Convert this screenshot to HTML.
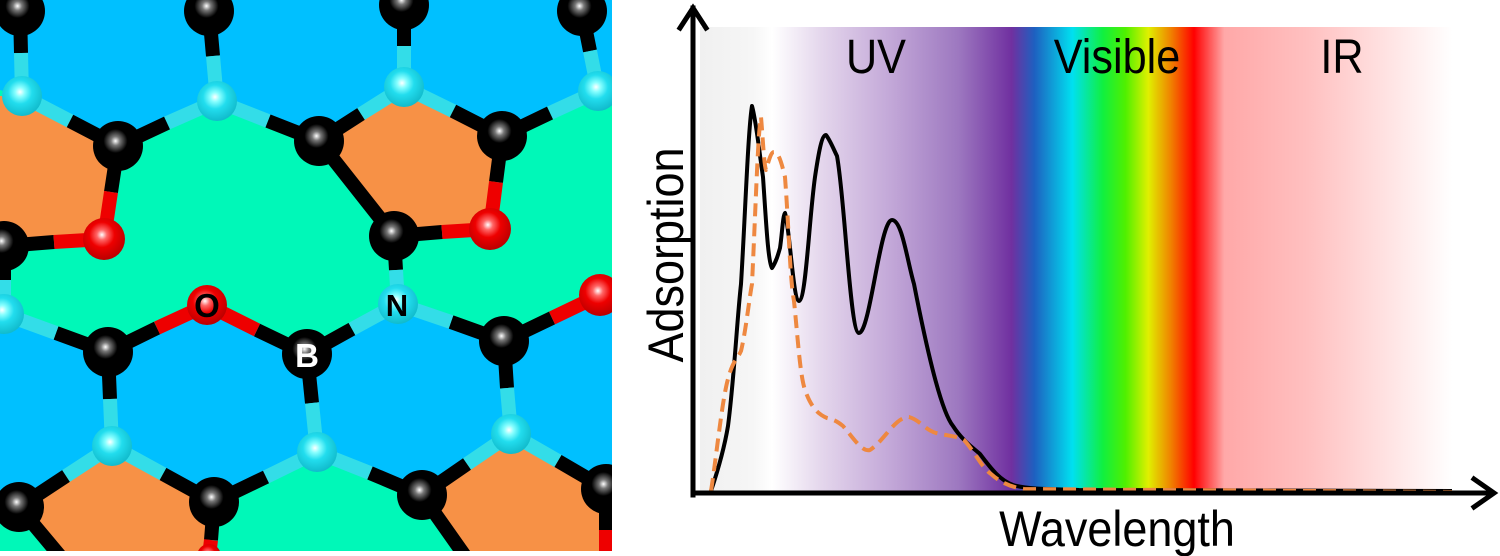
<!DOCTYPE html>
<html><head><meta charset="utf-8"><style>
html,body{margin:0;padding:0;background:#fff;width:1500px;height:556px;overflow:hidden}
svg{display:block}
text{font-family:"Liberation Sans",Arial,sans-serif}
</style></head><body>
<svg width="1500" height="556" viewBox="0 0 1500 556" xmlns="http://www.w3.org/2000/svg">
<defs>
<clipPath id="mc"><rect x="0" y="0" width="612" height="551"/></clipPath>
<radialGradient id="gC" cx="0.45" cy="0.4" r="0.6"><stop offset="0" stop-color="#fff"/><stop offset="0.15" stop-color="#777"/><stop offset="0.4" stop-color="#000"/><stop offset="1" stop-color="#000"/></radialGradient>
<radialGradient id="gN" cx="0.45" cy="0.4" r="0.6"><stop offset="0" stop-color="#fff"/><stop offset="0.2" stop-color="#8ff"/><stop offset="0.5" stop-color="#2de"/><stop offset="1" stop-color="#1bc"/></radialGradient>
<radialGradient id="gO" cx="0.45" cy="0.4" r="0.6"><stop offset="0" stop-color="#fff"/><stop offset="0.2" stop-color="#f66"/><stop offset="0.5" stop-color="#e00"/><stop offset="1" stop-color="#b00"/></radialGradient>
<linearGradient id="spec" x1="0" x2="1" y1="0" y2="0">
<stop offset="0" stop-color="#f0f0f0"/>
<stop offset="0.07" stop-color="#f6f6f6"/>
<stop offset="0.095" stop-color="#fff"/>
<stop offset="0.16" stop-color="#e4d6ec"/>
<stop offset="0.25" stop-color="#c3a8d8"/>
<stop offset="0.34" stop-color="#9d78c0"/>
<stop offset="0.41" stop-color="#7030a0"/>
<stop offset="0.44" stop-color="#1e60c0"/>
<stop offset="0.49" stop-color="#00e0f0"/>
<stop offset="0.53" stop-color="#10f040"/>
<stop offset="0.56" stop-color="#50f000"/>
<stop offset="0.59" stop-color="#e0f000"/>
<stop offset="0.62" stop-color="#f08000"/>
<stop offset="0.65" stop-color="#ff0000"/>
<stop offset="0.69" stop-color="#ffa8a8"/>
<stop offset="0.80" stop-color="#ffc0c0"/>
<stop offset="0.99" stop-color="#fff"/>
</linearGradient>
</defs>

<g clip-path="url(#mc)">
<rect x="0" y="0" width="612" height="551" fill="#00c0ff"/>
<polygon fill="#00f8b8" points="0,90 22,96 118,146 217,101 319,141 404,87 502,136 598,91 612,85 612,290 600,295 504,341 398,304 307,354 207,305 108,352 4,314 0,312"/>
<polygon fill="#f79146" points="0,96 22,96 118,146 104,239 4,246 0,246"/>
<polygon fill="#f79146" points="319,141 404,87 502,136 490,229 394,236"/>
<polygon fill="#00f8b8" points="0,500 19,507 112,446 214,502 317,452 422,495 511,434 606,489 612,489 612,556 0,556"/>
<polygon fill="#f79146" points="19,507 112,446 214,502 209,556 60,556"/>
<polygon fill="#f79146" points="422,495 511,434 606,489 606,556 465,556"/>
<g stroke-width="14" stroke-linecap="butt" fill="none">
<path stroke="#000" d="M20,11L21,53 M209,11L213,56 M404,5L404,46 M582,11L590,51"/>
<path stroke="#33dde8" d="M21,53L22,96 M213,56L217,101 M404,46L404,87 M590,51L598,91"/>
<path stroke="#33dde8" d="M22,96L70,121 M217,101L167,123 M217,101L268,121 M404,87L361,114 M404,87L453,111 M598,91L550,113"/>
<path stroke="#000" d="M70,121L118,146 M167,123L118,146 M268,121L319,141 M361,114L319,141 M453,111L502,136 M550,113L502,136"/>
<path stroke="#000" d="M118,146L111,192 M54,242L4,246 M319,141L394,236 M394,236L442,232 M502,136L496,182"/>
<path stroke="#e00" d="M111,192L104,239 M104,239L54,242 M442,232L490,229 M496,182L490,229"/>
<path stroke="#000" d="M4,246L4,280 M394,236L396,270 M108,352L56,333 M108,352L157,328 M307,354L257,330 M307,354L352,329 M504,341L451,322 M504,341L552,318"/>
<path stroke="#33dde8" d="M4,280L4,314 M396,270L398,304 M4,314L56,333 M398,304L352,329 M398,304L451,322"/>
<path stroke="#e00" d="M157,328L207,305 M207,305L257,330 M552,318L600,295"/>
<path stroke="#000" d="M108,352L110,399 M307,354L312,403 M504,341L507,388"/>
<path stroke="#33dde8" d="M110,399L112,446 M312,403L317,452 M507,388L511,434"/>
<path stroke="#33dde8" d="M112,446L66,476 M112,446L163,474 M317,452L266,477 M317,452L370,473 M511,434L467,464 M511,434L558,461"/>
<path stroke="#000" d="M66,476L19,507 M163,474L214,502 M266,477L214,502 M370,473L422,495 M467,464L422,495 M558,461L606,489"/>
<path stroke="#000" d="M19,507L60,556 M214,502L211,540 M422,495L465,556 M606,489L606,530"/>
<path stroke="#e00" d="M211,540L209,556 M606,530L606,556"/>
</g>
<g>
<circle cx="20" cy="11" r="25" fill="url(#gC)"/><circle cx="209" cy="11" r="25" fill="url(#gC)"/><circle cx="404" cy="5" r="25" fill="url(#gC)"/><circle cx="582" cy="11" r="25" fill="url(#gC)"/>
<circle cx="118" cy="146" r="25" fill="url(#gC)"/><circle cx="319" cy="141" r="25" fill="url(#gC)"/><circle cx="502" cy="136" r="25" fill="url(#gC)"/>
<circle cx="4" cy="246" r="25" fill="url(#gC)"/><circle cx="394" cy="236" r="25" fill="url(#gC)"/>
<circle cx="108" cy="352" r="25" fill="url(#gC)"/><circle cx="307" cy="354" r="25" fill="url(#gC)"/><circle cx="504" cy="341" r="25" fill="url(#gC)"/>
<circle cx="19" cy="507" r="25" fill="url(#gC)"/><circle cx="214" cy="502" r="25" fill="url(#gC)"/><circle cx="422" cy="495" r="25" fill="url(#gC)"/><circle cx="606" cy="489" r="25" fill="url(#gC)"/>
<circle cx="22" cy="96" r="20" fill="url(#gN)"/><circle cx="217" cy="101" r="20" fill="url(#gN)"/><circle cx="404" cy="87" r="20" fill="url(#gN)"/><circle cx="598" cy="91" r="20" fill="url(#gN)"/>
<circle cx="4" cy="314" r="20" fill="url(#gN)"/><circle cx="398" cy="304" r="20" fill="url(#gN)"/>
<circle cx="112" cy="446" r="20" fill="url(#gN)"/><circle cx="317" cy="452" r="20" fill="url(#gN)"/><circle cx="511" cy="434" r="20" fill="url(#gN)"/>
<circle cx="104" cy="239" r="21" fill="url(#gO)"/><circle cx="490" cy="229" r="21" fill="url(#gO)"/><circle cx="207" cy="305" r="20" fill="url(#gO)"/><circle cx="600" cy="295" r="21" fill="url(#gO)"/><circle cx="209" cy="556" r="12" fill="url(#gO)"/>
</g>
<text x="207" y="317" font-size="33" font-weight="bold" text-anchor="middle" fill="#000">O</text>
<text x="307" y="367" font-size="33" font-weight="bold" text-anchor="middle" fill="#fff">B</text>
<text x="397" y="316" font-size="31" font-weight="bold" text-anchor="middle" fill="#000">N</text>
</g>

<rect x="700" y="27" width="760" height="464" fill="url(#spec)"/>
<text transform="translate(876,73) scale(0.9,1)" font-size="48" text-anchor="middle" fill="#000">UV</text>
<text transform="translate(1117,73) scale(0.9,1)" font-size="48" text-anchor="middle" fill="#000">Visible</text>
<text transform="translate(1342,73) scale(0.9,1)" font-size="48" text-anchor="middle" fill="#000">IR</text>
<text transform="translate(683,255) rotate(-90) scale(0.9,1)" font-size="50" text-anchor="middle" fill="#000">Adsorption</text>
<text transform="translate(1117,546) scale(0.9,1)" font-size="50" text-anchor="middle" fill="#000">Wavelength</text>

<path fill="none" stroke="#000" stroke-width="4" stroke-linejoin="round" d="M711,491 C718,470 724,450 728,426 C734,380 737,320 741,284 C745,220 748,130 752,106 C756,120 759,150 763,177 C766,220 768,262 772,268 C776,262 778,255 780,248 C782,235 783,214 785,213 C790,230 793,300 799,301 C806,300 809,220 815,177 C819,150 822,135 826,135 C830,140 834,150 837,156 C845,200 850,333 859,333 C870,333 880,220 892,220 C902,220 907,260 914,284 C925,340 940,410 953,426 C962,440 972,447 980,454 C992,470 1000,480 1013,485 C1030,490 1060,489 1079,490 L1452,491"/>
<path fill="none" stroke="#ee8840" stroke-width="4" stroke-dasharray="13,7" stroke-linejoin="round" d="M711,491 C716,460 722,400 728,379 C733,360 737,360 741,351 C746,330 749,300 752,284 C756,200 758,130 761,117 C763,140 764,165 766,170 C769,160 771,152 774,152 C779,152 782,165 785,177 C789,230 790,280 794,301 C798,340 800,375 805,390 C812,410 820,415 827,418 C835,420 838,422 843,426 C855,440 862,452 870,450 C885,440 895,417 909,417 C920,420 925,430 936,433 C948,436 958,436 964,440 C975,452 982,468 991,474 C1000,482 1010,487 1024,489 L1452,492"/>

<g stroke="#000" stroke-width="5" fill="none" stroke-linecap="square">
<line x1="693" y1="8" x2="693" y2="495"/>
<line x1="693" y1="493" x2="1490" y2="493"/>
<polyline points="680,28 693,8 706,28" stroke-linejoin="miter"/>
<polyline points="1474,479 1494,493 1474,507" stroke-linejoin="miter"/>
</g>
</svg>
</body></html>
